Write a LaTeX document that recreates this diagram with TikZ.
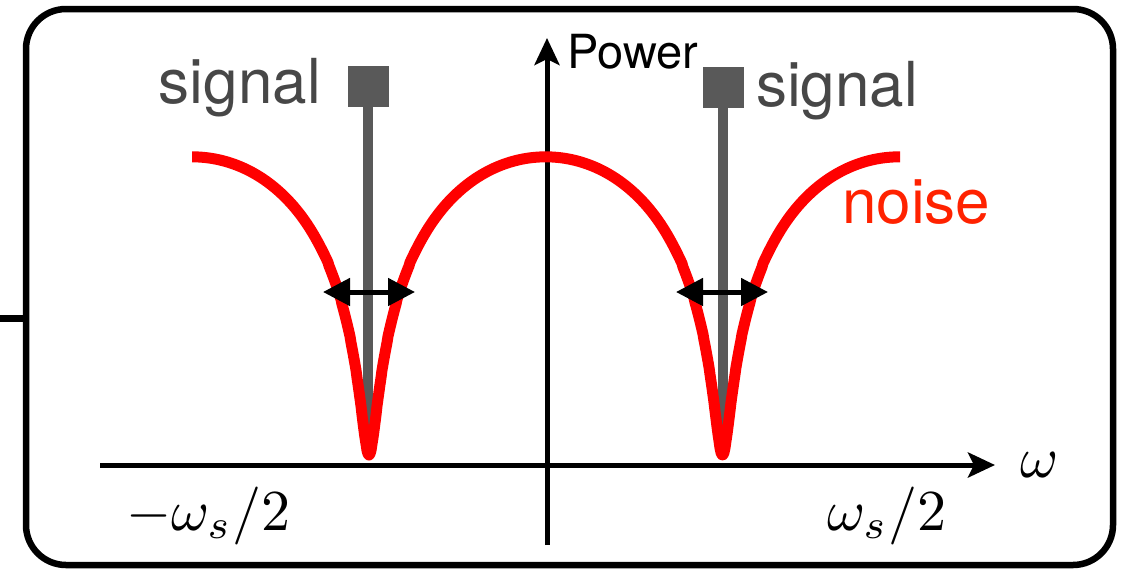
\documentclass[tikz,border=0pt]{standalone}
\usepackage{fontspec}
\newfontfamily\helv{TeX Gyre Heros}
\usetikzlibrary{arrows.meta}
\definecolor{sigGray}{HTML}{595959}
\definecolor{sigText}{HTML}{474747}
\definecolor{noiseRed}{HTML}{FF0000}
\definecolor{noiseText}{HTML}{FF2200}
\newcommand{\bigmath}[1]{\scalebox{5.8}{$#1$}}
\tikzset{
  frame/.style={line width=6.5pt, rounded corners=40pt},
  stub/.style={line width=7pt},
  axis/.style={line width=5pt, -{Stealth[length=27pt, width=25pt, inset=6pt]}},
  sq/.style={fill=sigGray, draw=none, minimum size=41pt, inner sep=0pt},
  stem/.style={draw=sigGray, line width=10pt},
  noise/.style={draw=noiseRed, line width=11pt, line join=round},
  dbl/.style={line width=5pt, {Triangle[length=27pt, width=27pt]}-{Triangle[length=27pt, width=27pt]}},
  sigtxt/.style={text=sigText, font=\helv\fontsize{62}{70}\selectfont, inner sep=0pt},
  noisetxt/.style={text=noiseText, font=\helv\fontsize{62}{70}\selectfont, inner sep=0pt},
  powtxt/.style={text=black, font=\helv\fontsize{47}{52}\selectfont, inner sep=0pt},
  mathtxt/.style={text=black, inner sep=0pt}
}
\begin{document}
\begin{tikzpicture}[x=1pt, y=-1pt,
  declare function={ss(\t)=sin((\t-369)*0.509194); nz(\t)=455 - 298*(1 + ln(ss(\t)*ss(\t) + 0.00334)/5.7);}]
\useasboundingbox (0,0) rectangle (1121,574);
% frame
\draw[frame] (26,9) rectangle (1113,565);
\coordinate (stubL) at (0,318);
\coordinate (stubR) at (26,318);
\draw[stub] (stubL) -- (stubR);
% signal stems
\node[sq] (sqL) at (368,86) {};
\node[sq] (sqR) at (723,87) {};
\coordinate (stL) at (368,445);
\coordinate (stR) at (723,445);
\draw[stem] (sqL.south) -- (stL);
\draw[stem] (sqR.south) -- (stR);
% axes
\coordinate (xs) at (100,465);
\coordinate (xe) at (995,465);
\coordinate (ys) at (547,545);
\coordinate (ye) at (547,38);
\draw[axis] (xs) -- (xe);
\draw[axis] (ys) -- (ye);
% noise curve
\draw[noise] plot[domain=192:900, samples=709, variable=\x] (\x, {nz(\x)});
% double arrows
\coordinate (dL1) at (323,292);
\coordinate (dL2) at (415,292);
\coordinate (dR1) at (676,292);
\coordinate (dR2) at (768,292);
\draw[dbl] (dL1) -- (dL2);
\draw[dbl] (dR1) -- (dR2);
% labels
\node[sigtxt, anchor=base east] (sigLtxt) at (321,103) {signal};
\node[sigtxt, anchor=base west] (sigRtxt) at (756,106) {signal};
\node[noisetxt, anchor=base west] (noiseTxt) at (842,223) {noise};
\node[powtxt, anchor=base west] (powTxt) at (567,68) {Power};
\node[mathtxt, anchor=base west] (mL) at (126,530) {\bigmath{-\omega_s/2}};
\node[mathtxt, anchor=base west] (mR) at (827,530) {\bigmath{\omega_s/2}};
\node[mathtxt, anchor=base west] (mW) at (1020,477) {\bigmath{\omega}};
\end{tikzpicture}
\end{document}
